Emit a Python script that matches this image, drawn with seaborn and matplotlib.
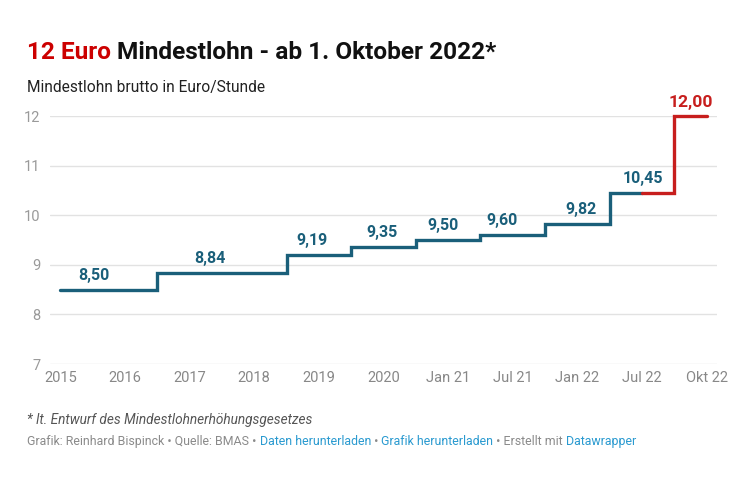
import matplotlib
matplotlib.use("Agg")
import matplotlib.pyplot as plt
import seaborn as sns
import pandas as pd

# ---- data ----
tick_labels = ['2015', '2016', '2017', '2018', '2019', '2020',
               'Jan 21', 'Jul 21', 'Jan 22', 'Jul 22', 'Okt 22']
step_x = [0, 1.5, 3.5, 4.5, 5.5, 6.5, 7.5, 8.5, 9.0]
step_y = [8.50, 8.84, 9.19, 9.35, 9.50, 9.60, 9.82, 10.45, 10.45]
planned_x = [9.0, 9.5, 10.0]
planned_y = [10.45, 12.00, 12.00]
value_labels = ['8,50', '8,84', '9,19', '9,35', '9,50', '9,60', '9,82', '10,45', '12,00']
value_label_y = [8.50, 8.84, 9.19, 9.35, 9.50, 9.60, 9.82, 10.45, 12.00]
label_x = [0.52, 2.31, 3.89, 4.97, 5.92, 6.84, 8.05, 9.01, 9.75]
y_ticks = [7, 8, 9, 10, 11, 12]

BLUE = '#1a5f7a'
RED = '#c71e1d'
TITLE_RED = '#cc0000'
GREY = '#8a8a8a'
LINK = '#2a9ad0'

sns.set_theme(style='white')
plt.rcParams['font.family'] = ['Roboto', 'DejaVu Sans']

W, H = 753, 483
fig = plt.figure(figsize=(W / 100, H / 100), dpi=100)
ax = fig.add_axes([50 / W, 1 - 364 / H, (717 - 50) / W, (364 - 116) / H])

df_hist = pd.DataFrame({'x': step_x, 'y': step_y})
df_plan = pd.DataFrame({'x': planned_x, 'y': planned_y})
sns.lineplot(data=df_hist, x='x', y='y', ax=ax, color=BLUE, linewidth=2.4,
             drawstyle='steps-post', solid_joinstyle='miter', clip_on=False, zorder=3)
sns.lineplot(data=df_plan, x='x', y='y', ax=ax, color=RED, linewidth=2.4,
             drawstyle='steps-post', solid_joinstyle='miter', clip_on=False, zorder=4)

ax.set_xlim(-0.16, 10.16)
ax.set_ylim(7, 12)
ax.set_xlabel('')
ax.set_ylabel('')
for s in ax.spines.values():
    s.set_visible(False)
ax.set_yticks(y_ticks)
ax.set_yticklabels([str(v) for v in y_ticks])
ax.grid(axis='y', color='#e2e2e2', linewidth=1.0, zorder=0)
ax.grid(axis='x', visible=False)
ax.set_xticks(range(len(tick_labels)))
ax.set_xticklabels(tick_labels)
ax.tick_params(axis='y', length=0, pad=7, labelsize=10.5, labelcolor='#9a9a9a')
ax.tick_params(axis='x', length=0, pad=5, labelsize=10.5, labelcolor='#888888')

for i, (lx, ly, lab) in enumerate(zip(label_x, value_label_y, value_labels)):
    last = i == len(value_labels) - 1
    ax.annotate(lab, (lx, ly), xytext=(0, 4.5 if last else 5), textcoords='offset points',
                ha='center', va='bottom', fontsize=12.6 if last else 11.5,
                fontweight='bold', color=RED if last else BLUE,
                annotation_clip=False, zorder=5)

# ---- texts ----
def rich_line(parts, x_px, y_px, **kw):
    fig.canvas.draw()
    r = fig.canvas.get_renderer()
    x = x_px / W
    for txt, col in parts:
        t = fig.text(x, 1 - y_px / H, txt, color=col, va='baseline', ha='left', **kw)
        bb = t.get_window_extent(renderer=r)
        x += bb.width / W

rich_line([('12 Euro ', TITLE_RED), ('Mindestlohn - ab 1. Oktober 2022*', '#111111')],
          27, 59, fontsize=17.6, fontweight='bold')
fig.text(27 / W, 1 - 92 / H, 'Mindestlohn brutto in Euro/Stunde', fontsize=11.2,
         color='#222222', va='baseline')
fig.text(27 / W, 1 - 424 / H, '* lt. Entwurf des Mindestlohnerhöhungsgesetzes',
         fontsize=9.8, style='italic', color='#555555', va='baseline')
rich_line([('Grafik: Reinhard Bispinck • Quelle: BMAS • ', GREY),
           ('Daten herunterladen', LINK), (' • ', GREY),
           ('Grafik herunterladen', LINK), (' • Erstellt mit ', GREY),
           ('Datawrapper', LINK)],
          27, 445, fontsize=8.9)

fig.savefig('out.png', dpi=100, facecolor='white')
